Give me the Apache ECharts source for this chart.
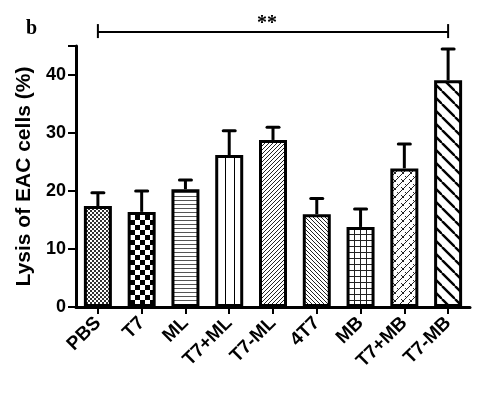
<!DOCTYPE html>
<html><head><meta charset="utf-8">
<script src="https://cdn.jsdelivr.net/npm/echarts@6/dist/echarts.min.js"></script>
<style>html,body{margin:0;padding:0;background:#fff}#c{width:486px;height:393px}</style>
</head><body><div id="c"></div>
<script>
const categories = ['PBS','T7','ML','T7+ML','T7-ML','4T7','MB','T7+MB','T7-MB'];
const means = [17.4, 16.4, 20.3, 26.2, 28.8, 16.0, 13.8, 23.9, 39.1];
const errors = [2.3, 3.6, 1.6, 4.2, 2.2, 2.7, 3.1, 4.2, 5.4];
const patterns = ['fineCheck','check','hlines','vlines','diagF','diagB','grid','zigzag','wideB'];
const yTicks = [0, 10, 20, 30, 40];
const sigPair = ['PBS','T7-MB'];
const sigLevel = 47.4;
const sigText = '**';

function makePattern(type){
  const c = document.createElement('canvas');
  const sizes = {fineCheck:4, check:10, hlines:4, vlines:9, diagF:4, diagB:4, grid:6, zigzag:8, wideB:13};
  const s = sizes[type];
  c.width = s; c.height = s;
  const g = c.getContext('2d');
  g.fillStyle = '#fff'; g.fillRect(0,0,s,s);
  g.fillStyle = '#000'; g.strokeStyle = '#000';
  if (type === 'fineCheck'){
    g.fillStyle = '#333';
    g.fillRect(0,0,2,2); g.fillRect(2,2,2,2);
  } else if (type === 'check'){
    g.fillRect(0,0,5,5); g.fillRect(5,5,5,5);
  } else if (type === 'hlines'){
    g.fillStyle = '#555'; g.fillRect(0,0,s,1);
  } else if (type === 'vlines'){
    g.fillRect(0,0,1,s);
  } else if (type === 'diagF' || type === 'diagB' || type === 'wideB'){
    g.lineWidth = type === 'wideB' ? 2.4 : 1;
    g.strokeStyle = type === 'wideB' ? '#000' : '#222';
    const dir = type === 'diagF' ? -1 : 1;
    for (let k = -1; k <= 1; k++){
      g.beginPath();
      if (dir > 0){ g.moveTo(k*s, 0); g.lineTo(k*s + s, s); }
      else { g.moveTo(k*s, s); g.lineTo(k*s + s, 0); }
      g.stroke();
    }
  } else if (type === 'grid'){
    g.fillStyle = '#222';
    g.fillRect(0,0,s,1); g.fillRect(0,0,1,s);
  } else if (type === 'zigzag'){
    g.lineWidth = 1; g.strokeStyle = '#222';
    for (let k = -1; k <= 1; k++){
      g.beginPath(); g.moveTo(k*s, s); g.lineTo(k*s + s, 0); g.stroke();
    }
    g.beginPath(); g.moveTo(1, 3); g.lineTo(4, 6); g.stroke();
    g.beginPath(); g.moveTo(5, 0); g.lineTo(7, 2); g.stroke();
  }
  return {image: c, repeat: 'repeat'};
}

const chart = echarts.init(document.getElementById('c'), null, {renderer:'canvas'});
const barData = means.map((v,i)=>({value:v, itemStyle:{color:makePattern(patterns[i])}}));
const errData = means.map((v,i)=>[i, v, v + errors[i]]);

chart.setOption({
  animation:false,
  backgroundColor:'#fff',
  grid:{left:76, right:16, top:46, bottom:86},
  xAxis:{
    type:'category', data:categories,
    axisLine:{lineStyle:{color:'#000', width:3}},
    axisTick:{show:true, alignWithLabel:true, length:7, lineStyle:{color:'#000', width:2}},
    axisLabel:{rotate:45, color:'#000', fontFamily:'Liberation Sans, Arial', fontWeight:'bold', fontSize:19, margin:13, interval:0}
  },
  yAxis:{
    type:'value', min:0, max:45, interval:10,
    name:'Lysis of EAC cells (%)', nameLocation:'middle', nameGap:38,
    nameTextStyle:{color:'#000', fontFamily:'Liberation Sans, Arial', fontWeight:'bold', fontSize:21},
    axisLine:{show:true, lineStyle:{color:'#000', width:3}},
    axisTick:{show:true, length:8, lineStyle:{color:'#000', width:2}},
    splitLine:{show:false},
    axisLabel:{color:'#000', fontFamily:'Liberation Sans, Arial', fontWeight:'bold', fontSize:18, margin:10,
      formatter:function(v){ return yTicks.indexOf(v) >= 0 ? String(v) : ''; }}
  },
  series:[
    {
      type:'custom', z:1,
      renderItem:function(params, api){
        const x = api.value(0);
        const p0 = api.coord([x, api.value(1)]);
        const p1 = api.coord([x, api.value(2)]);
        return {type:'group', children:[
          {type:'line', shape:{x1:p0[0], y1:p0[1], x2:p1[0], y2:p1[1]}, style:{stroke:'#000', lineWidth:3}},
          {type:'line', shape:{x1:p1[0]-6, y1:p1[1], x2:p1[0]+6, y2:p1[1]}, style:{stroke:'#000', lineWidth:3, lineCap:'round'}}
        ]};
      },
      encode:{x:0, y:[1,2]},
      data:errData
    },
    {
      type:'bar', z:2, barWidth:28, data:barData,
      itemStyle:{borderColor:'#000', borderWidth:3}
    },
    {
      type:'custom', clip:false, z:3,
      renderItem:function(params, api){
        if (params.dataIndex !== 0) return null;
        const a = api.coord([categories.indexOf(sigPair[0]), sigLevel]);
        const b = api.coord([categories.indexOf(sigPair[1]), sigLevel]);
        return {type:'group', children:[
          {type:'line', shape:{x1:a[0], y1:a[1], x2:b[0], y2:b[1]}, style:{stroke:'#000', lineWidth:2}},
          {type:'line', shape:{x1:a[0], y1:a[1]-8, x2:a[0], y2:a[1]+6}, style:{stroke:'#000', lineWidth:2}},
          {type:'line', shape:{x1:b[0], y1:b[1]-8, x2:b[0], y2:b[1]+6}, style:{stroke:'#000', lineWidth:2}},
          {type:'text', style:{x:(a[0]+b[0])/2 - 6, y:a[1]+2, text:sigText, fill:'#000', font:'bold 20px "Liberation Serif"', align:'center', verticalAlign:'bottom'}}
        ]};
      },
      data:[[0, sigLevel]]
    }
  ],
  graphic:[{type:'text', left:26, top:19, style:{text:'b', fill:'#000', font:'bold 20px "Liberation Serif"'}}]
});
</script></body></html>
